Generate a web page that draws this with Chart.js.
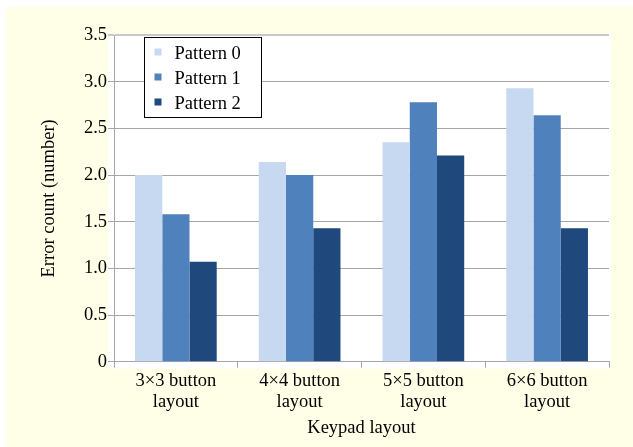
<!DOCTYPE html>
<html>
<head>
<meta charset="utf-8">
<script src="https://cdn.jsdelivr.net/npm/chart.js@4.4.1/dist/chart.umd.min.js"></script>
<style>
  html, body { margin: 0; padding: 0; background: #ffffff; }
  #frame {
    position: absolute; left: 6px; top: 7px;
    width: 627px; height: 440px;
    background: #fffee6;
  }
  canvas { display: block; }
</style>
</head>
<body>
<div id="frame"><canvas id="chart" width="627" height="440"></canvas></div>
<script>
// Keypad layouts tested
const categories = [
  ['3×3 button', 'layout'],
  ['4×4 button', 'layout'],
  ['5×5 button', 'layout'],
  ['6×6 button', 'layout']
];

// Mean error count per layout for each unlock pattern
const seriesNames = ['Pattern 0', 'Pattern 1', 'Pattern 2'];
const pattern0 = [2.00, 2.14, 2.35, 2.93];
const pattern1 = [1.58, 2.00, 2.78, 2.64];
const pattern2 = [1.07, 1.43, 2.21, 1.43];

// Y axis tick values
const yTicks = [0, 0.5, 1.0, 1.5, 2.0, 2.5, 3.0, 3.5];

const seriesColors = ['#c6d9f0', '#4f81bd', '#1f497d'];
const FONT = "'Liberation Serif', 'Times New Roman', serif";
const FONT_SIZE = 18.5;

// White plotting panel behind the bars
const panelBackground = {
  id: 'panelBackground',
  beforeDraw(chart) {
    const { ctx, chartArea: a } = chart;
    ctx.save();
    ctx.fillStyle = '#ffffff';
    ctx.fillRect(a.left - 6, a.top - 1, (a.right + 2) - (a.left - 6), (a.bottom + 7) - (a.top - 1));
    ctx.restore();
  }
};

// Boxed legend inside the plot, top-left
const boxedLegend = {
  id: 'boxedLegend',
  afterDatasetsDraw(chart) {
    const { ctx, chartArea: a } = chart;
    const x = Math.round(a.left + 30) + 0.5;
    const y = Math.round(a.top + 2) + 0.5;
    const w = 117, h = 80;
    ctx.save();
    ctx.fillStyle = '#ffffff';
    ctx.fillRect(x, y, w, h);
    ctx.strokeStyle = '#000000';
    ctx.lineWidth = 1;
    ctx.strokeRect(x, y, w, h);
    ctx.font = FONT_SIZE + 'px ' + FONT;
    ctx.textBaseline = 'alphabetic';
    ctx.textAlign = 'left';
    chart.data.datasets.forEach((ds, i) => {
      const baseY = y + 21 + i * 25;
      ctx.fillStyle = ds.backgroundColor;
      ctx.fillRect(x + 10, baseY - 10, 7, 7);
      ctx.fillStyle = '#000000';
      ctx.fillText(ds.label, x + 30, baseY);
    });
    ctx.restore();
  }
};

const gridGrey = '#a6a6a6';

new Chart(document.getElementById('chart'), {
  type: 'bar',
  data: {
    labels: categories,
    datasets: [
      { label: seriesNames[0], data: pattern0, backgroundColor: seriesColors[0] },
      { label: seriesNames[1], data: pattern1, backgroundColor: seriesColors[1] },
      { label: seriesNames[2], data: pattern2, backgroundColor: seriesColors[2] }
    ]
  },
  plugins: [panelBackground, boxedLegend],
  options: {
    responsive: false,
    animation: false,
    devicePixelRatio: 1,
    layout: { padding: { left: 28, right: 24, top: 28, bottom: 0 } },
    datasets: {
      bar: { barPercentage: 1.0, categoryPercentage: 0.66, borderWidth: 0 }
    },
    plugins: {
      legend: { display: false },
      tooltip: { enabled: false }
    },
    scales: {
      x: {
        afterFit(scale) { scale.height = 85.3; },
        grid: {
          drawOnChartArea: false,
          drawTicks: true,
          tickLength: 6,
          color: gridGrey,
          offset: true
        },
        border: { display: true, color: gridGrey, width: 1 },
        ticks: {
          color: '#000000',
          padding: 3,
          font: { family: FONT, size: FONT_SIZE, lineHeight: 1.135 }
        },
        title: {
          display: true,
          text: 'Keypad layout',
          color: '#000000',
          font: { family: FONT, size: FONT_SIZE, lineHeight: 1.2 },
          padding: { top: 0, bottom: 8 }
        }
      },
      y: {
        min: 0,
        max: 3.5,
        afterFit(scale) { scale.width = 80; },
        afterBuildTicks(scale) { scale.ticks = yTicks.map(v => ({ value: v })); },
        grid: {
          drawTicks: true,
          tickLength: 6,
          color: (c) => (c.tick && c.tick.value === 3.5 ? '#c8c8c8' : gridGrey),
          lineWidth: (c) => (c.tick && c.tick.value === 3.5 ? 2 : 1)
        },
        border: { display: true, color: gridGrey, width: 1 },
        ticks: {
          color: '#000000',
          padding: 1,
          font: { family: FONT, size: FONT_SIZE },
          callback: (v) => (v === 0 ? '0' : Number(v).toFixed(1))
        },
        title: {
          display: true,
          text: 'Error count (number)',
          color: '#000000',
          font: { family: FONT, size: FONT_SIZE, lineHeight: 1.2 },
          padding: { top: 4, bottom: 0 }
        }
      }
    }
  }
});
</script>
</body>
</html>
